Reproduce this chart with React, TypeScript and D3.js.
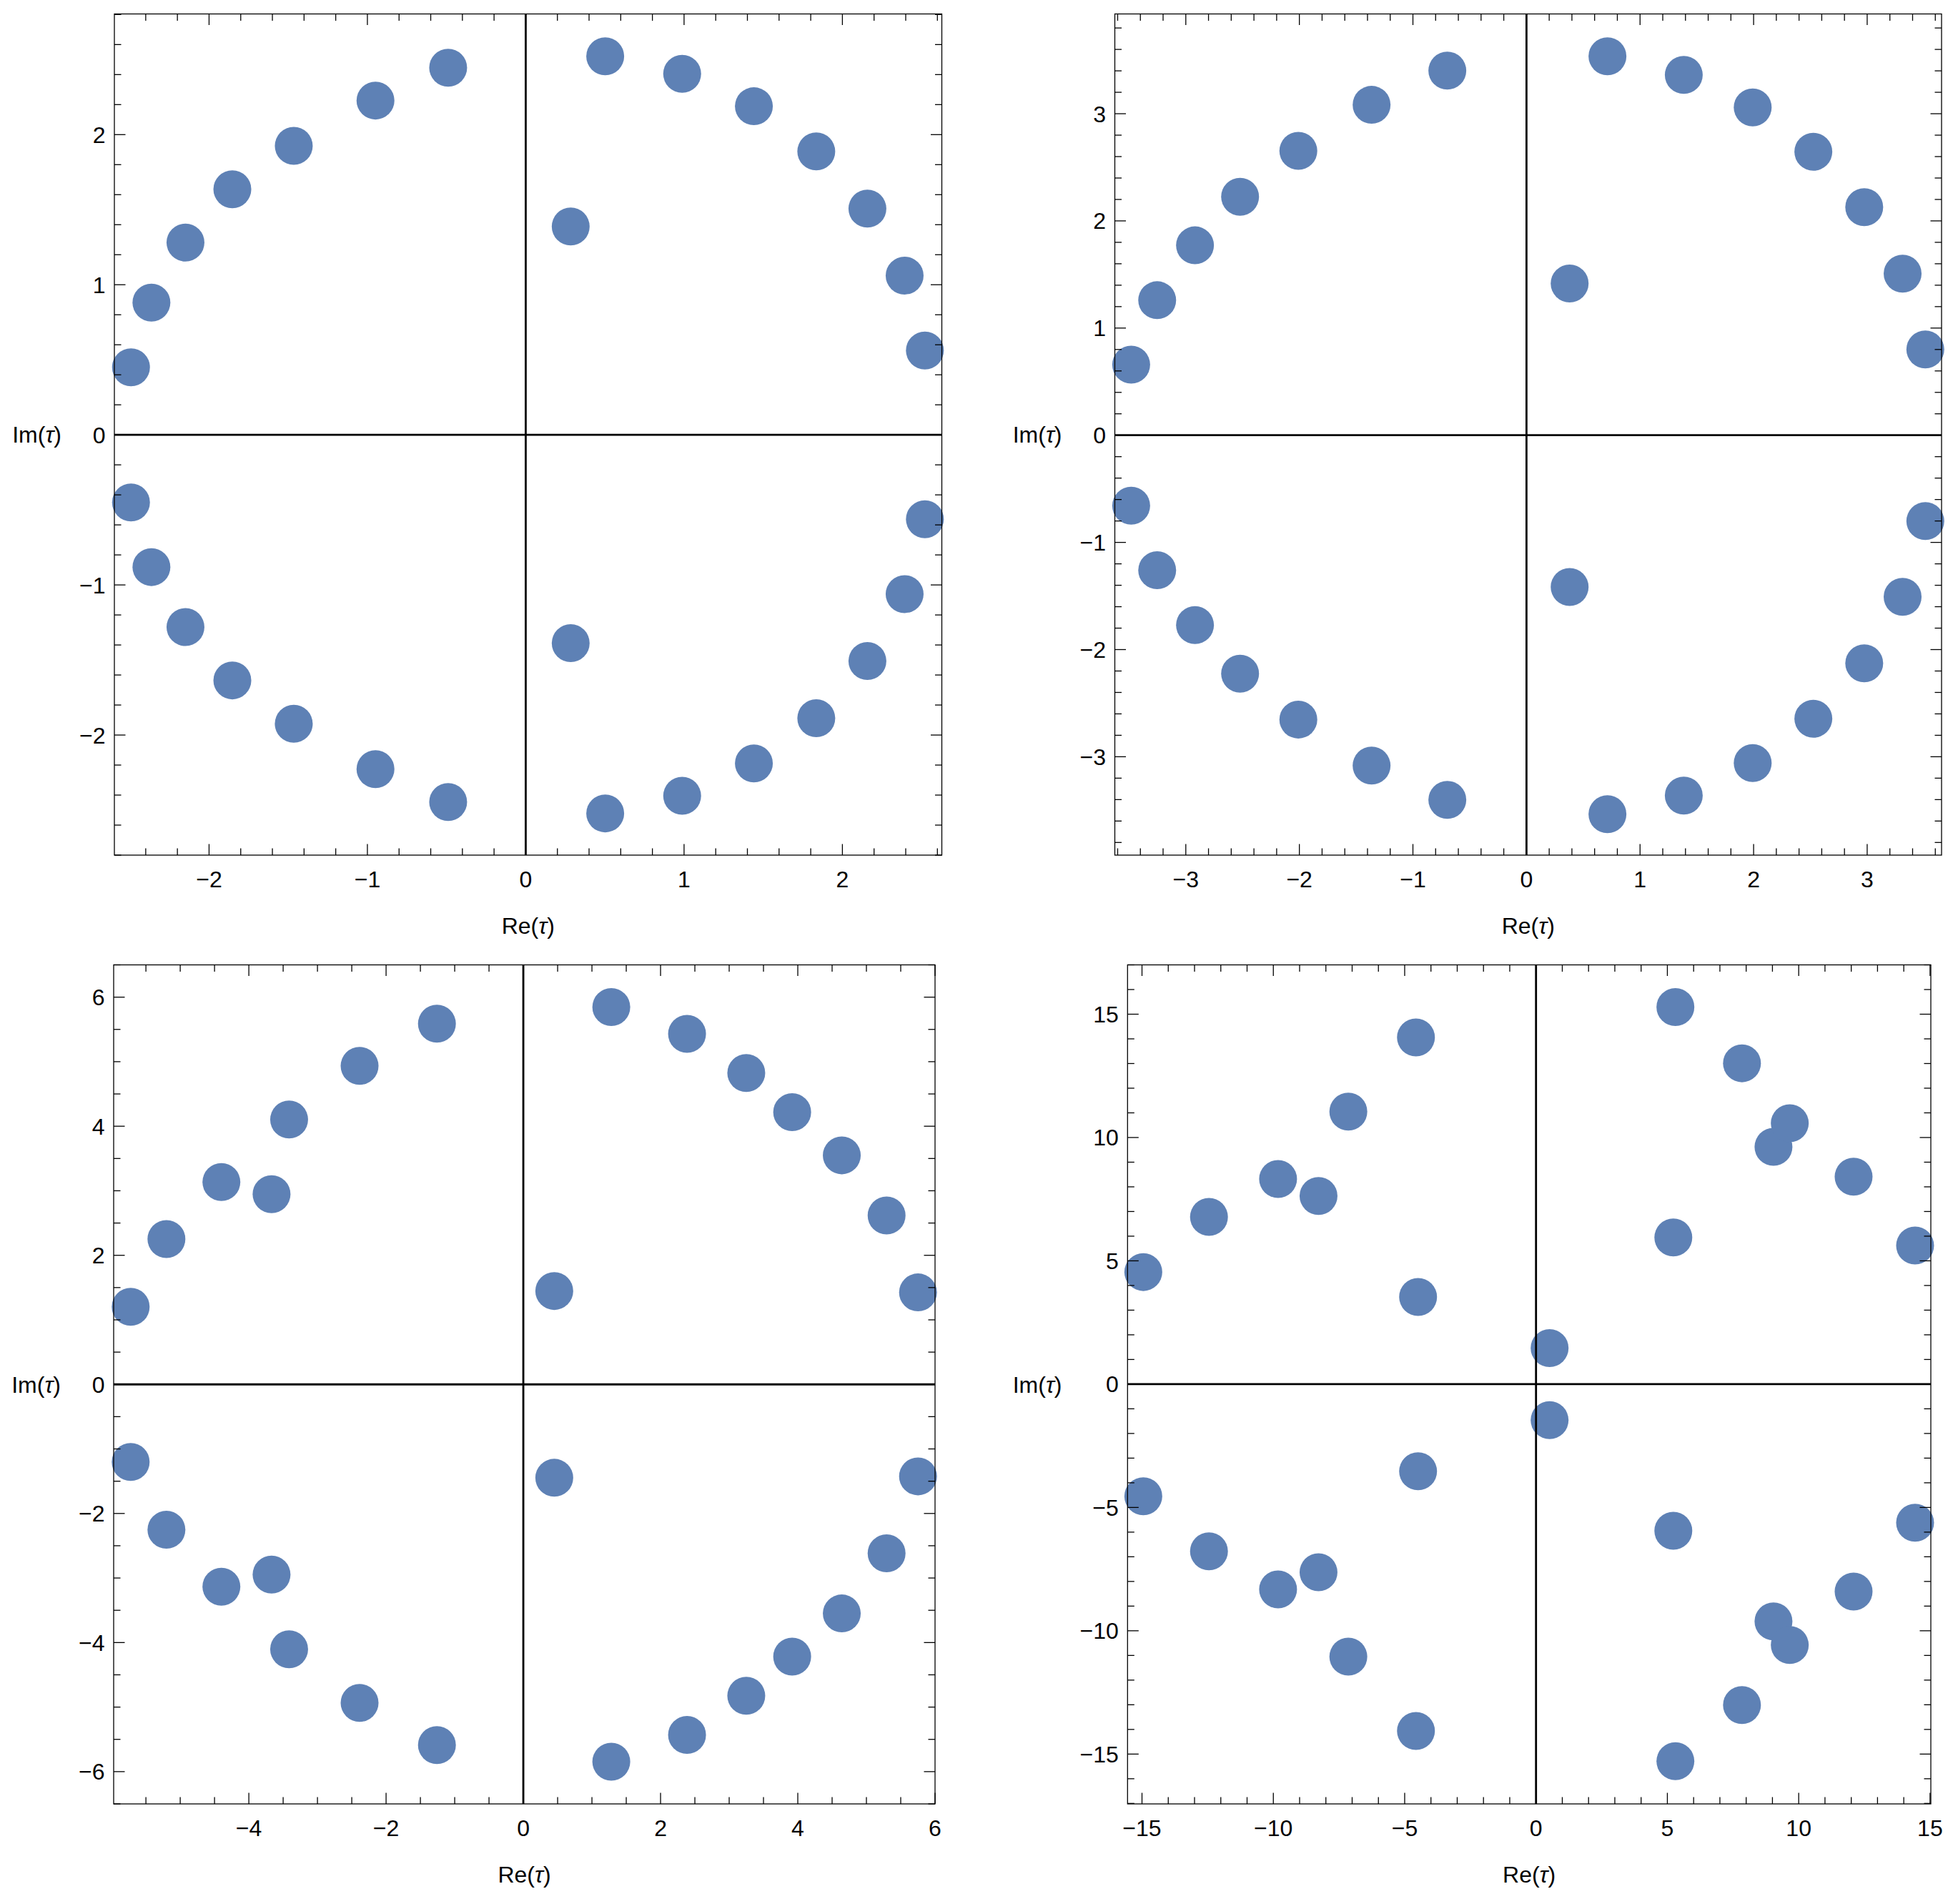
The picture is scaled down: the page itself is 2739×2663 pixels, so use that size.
import { useEffect, useRef } from 'react'
import * as d3 from 'd3'

type Pt = [number, number]

// zeros in the tau plane (upper half, then lower half)
const zerosA: Pt[] = [
  [-2.493, 0.45], [-2.364, 0.881], [-2.149, 1.281], [-1.853, 1.636], [-1.465, 1.925],
  [-0.949, 2.227], [-0.49, 2.446], [0.502, 2.522], [0.988, 2.405], [1.441, 2.189],
  [1.835, 1.888], [2.158, 1.507], [2.393, 1.061], [2.521, 0.562], [0.284, 1.388],
  [-2.493, -0.45], [-2.364, -0.881], [-2.149, -1.281], [-1.853, -1.636], [-1.465, -1.925],
  [-0.949, -2.227], [-0.49, -2.446], [0.502, -2.522], [0.988, -2.405], [1.441, -2.189],
  [1.835, -1.888], [2.158, -1.507], [2.393, -1.061], [2.521, -0.562], [0.284, -1.388],
]

const zerosB: Pt[] = [
  [-3.481, 0.658], [-3.252, 1.26], [-2.919, 1.772], [-2.522, 2.225], [-2.009, 2.653],
  [-1.364, 3.083], [-0.697, 3.402], [0.713, 3.536], [1.385, 3.362], [1.992, 3.059],
  [2.526, 2.645], [2.974, 2.128], [3.312, 1.508], [3.512, 0.801], [0.38, 1.416],
  [-3.481, -0.658], [-3.252, -1.26], [-2.919, -1.772], [-2.522, -2.225], [-2.009, -2.653],
  [-1.364, -3.083], [-0.697, -3.402], [0.713, -3.536], [1.385, -3.362], [1.992, -3.059],
  [2.526, -2.645], [2.974, -2.128], [3.312, -1.508], [3.512, -0.801], [0.38, -1.416],
]

const zerosC: Pt[] = [
  [-5.722, 1.202], [-5.201, 2.252], [-4.4, 3.134], [-3.669, 2.947], [-3.413, 4.104],
  [-2.386, 4.935], [-1.259, 5.588], [1.282, 5.846], [2.386, 5.431], [3.249, 4.825],
  [3.918, 4.218], [4.641, 3.549], [5.294, 2.617], [5.752, 1.425], [0.451, 1.447],
  [-5.722, -1.202], [-5.201, -2.252], [-4.4, -3.134], [-3.669, -2.947], [-3.413, -4.104],
  [-2.386, -4.935], [-1.259, -5.588], [1.282, -5.846], [2.386, -5.431], [3.249, -4.825],
  [3.918, -4.218], [4.641, -3.549], [5.294, -2.617], [5.752, -1.425], [0.451, -1.447],
]

const zerosD: Pt[] = [
  [-14.95, 4.545], [-12.45, 6.778], [-9.82, 8.32], [-8.28, 7.63], [-7.145, 11.05],
  [-4.571, 14.06], [-4.49, 3.535], [0.517, 1.462], [5.227, 5.946], [5.306, 15.29],
  [7.84, 13.01], [9.04, 9.62], [9.66, 10.58], [12.09, 8.41], [14.43, 5.62],
  [-14.95, -4.545], [-12.45, -6.778], [-9.82, -8.32], [-8.28, -7.63], [-7.145, -11.05],
  [-4.571, -14.06], [-4.49, -3.535], [0.517, -1.462], [5.227, -5.946], [5.306, -15.29],
  [7.84, -13.01], [9.04, -9.62], [9.66, -10.58], [12.09, -8.41], [14.43, -5.62],
]

const ticksA = [-2, -1, 0, 1, 2]
const ticksB = [-3, -2, -1, 0, 1, 2, 3]
const ticksC = [-6, -4, -2, 0, 2, 4, 6]
const ticksD = [-15, -10, -5, 0, 5, 10, 15]

interface Panel {
  points: Pt[]
  xDomain: [number, number]
  yDomain: [number, number]
  ticks: number[]
  minor: number
  box: { x0: number; x1: number; y0: number; y1: number }
}

const panels: Panel[] = [
  { points: zerosA, xDomain: [-2.598, 2.628], yDomain: [-2.8, 2.804], ticks: ticksA, minor: 0.2,
    box: { x0: 160, x1: 1317.5, y0: 19.5, y1: 1196 } },
  { points: zerosB, xDomain: [-3.625, 3.655], yDomain: [-3.918, 3.931], ticks: ticksB, minor: 0.2,
    box: { x0: 1559.5, x1: 2716, y0: 19.5, y1: 1196 } },
  { points: zerosC, xDomain: [-5.97, 6.0], yDomain: [-6.5, 6.5], ticks: ticksC, minor: 0.5,
    box: { x0: 159, x1: 1308, y0: 1349.5, y1: 2523 } },
  { points: zerosD, xDomain: [-15.55, 15.03], yDomain: [-17.02, 17.0], ticks: ticksD, minor: 1,
    box: { x0: 1577.3, x1: 2701, y0: 1349.5, y1: 2523 } },
]

const W = 2739
const H = 2663
const FONT = '"Liberation Sans", Arial, sans-serif'
const DOT = '#5E81B5'

const fmt = (v: number) => (v < 0 ? '\u2212' + Math.abs(v) : String(v))

export default function App() {
  const svgRef = useRef<SVGSVGElement>(null)

  useEffect(() => {
    if (!svgRef.current) return
    const svg = d3.select(svgRef.current)
    svg.selectAll('*').remove()

    svg.append('rect').attr('width', W).attr('height', H).attr('fill', '#fff')

    panels.forEach(p => {
      const { box } = p
      const x = d3.scaleLinear().domain(p.xDomain).range([box.x0, box.x1])
      const y = d3.scaleLinear().domain(p.yDomain).range([box.y1, box.y0])
      const g = svg.append('g')

      // points
      g.selectAll('circle')
        .data(p.points)
        .enter().append('circle')
        .attr('cx', d => x(d[0]))
        .attr('cy', d => y(d[1]))
        .attr('r', 26.5)
        .attr('fill', DOT)

      // axes through the origin
      g.append('line')
        .attr('x1', box.x0).attr('x2', box.x1)
        .attr('y1', y(0)).attr('y2', y(0))
        .attr('stroke', '#000').attr('stroke-width', 2.8)
      g.append('line')
        .attr('x1', x(0)).attr('x2', x(0))
        .attr('y1', box.y0).attr('y2', box.y1)
        .attr('stroke', '#000').attr('stroke-width', 2.8)

      // frame
      g.append('rect')
        .attr('x', box.x0).attr('y', box.y0)
        .attr('width', box.x1 - box.x0).attr('height', box.y1 - box.y0)
        .attr('fill', 'none').attr('stroke', '#000').attr('stroke-width', 1.3)

      // ticks, inward on all four sides
      const isMajor = (v: number) => p.ticks.some(t => Math.abs(t - v) < 1e-6)
      const minorVals = (dom: [number, number]) =>
        d3.range(Math.ceil(dom[0] / p.minor - 1e-9), Math.floor(dom[1] / p.minor + 1e-9) + 1)
          .map(i => +(i * p.minor).toFixed(6))
      const tickG = g.append('g').attr('stroke', '#000').attr('stroke-width', 1.3)
      minorVals(p.xDomain).forEach(v => {
        const len = isMajor(v) ? 15.5 : 9.5
        const px = x(v)
        tickG.append('line').attr('x1', px).attr('x2', px).attr('y1', box.y1).attr('y2', box.y1 - len)
        tickG.append('line').attr('x1', px).attr('x2', px).attr('y1', box.y0).attr('y2', box.y0 + len)
      })
      minorVals(p.yDomain).forEach(v => {
        const len = isMajor(v) ? 15.5 : 9.5
        const py = y(v)
        tickG.append('line').attr('x1', box.x0).attr('x2', box.x0 + len).attr('y1', py).attr('y2', py)
        tickG.append('line').attr('x1', box.x1).attr('x2', box.x1 - len).attr('y1', py).attr('y2', py)
      })

      // tick labels
      const xt = p.ticks.filter(t => t >= p.xDomain[0] - 1e-6 && t <= p.xDomain[1] + 1e-6)
      const yt = p.ticks.filter(t => t >= p.yDomain[0] - 1e-6 && t <= p.yDomain[1] + 1e-6)
      g.append('g').selectAll('text')
        .data(xt)
        .enter().append('text')
        .attr('x', d => x(d))
        .attr('y', box.y1 + 44.5)
        .attr('text-anchor', 'middle')
        .attr('font-family', FONT).attr('font-size', 32).attr('fill', '#000')
        .text(d => fmt(d))
      const yLabels = g.append('g')
      yLabels.selectAll('text')
        .data(yt)
        .enter().append('text')
        .attr('x', box.x0 - 12.5)
        .attr('y', d => y(d))
        .attr('dy', '0.36em')
        .attr('text-anchor', 'end')
        .attr('font-family', FONT).attr('font-size', 32).attr('fill', '#000')
        .text(d => fmt(d))

      let maxW = 0
      yLabels.selectAll<SVGTextElement, number>('text').each(function () {
        maxW = Math.max(maxW, this.getComputedTextLength())
      })

      // axis labels
      const re = g.append('text')
        .attr('x', (box.x0 + box.x1) / 2)
        .attr('y', box.y1 + 110)
        .attr('text-anchor', 'middle')
        .attr('font-family', FONT).attr('font-size', 32).attr('fill', '#000')
      re.append('tspan').text('Re(')
      re.append('tspan').attr('font-style', 'italic').text('\u03c4')
      re.append('tspan').text(')')

      const im = g.append('text')
        .attr('x', box.x0 - 12.5 - maxW - 25)
        .attr('y', (box.y0 + box.y1) / 2)
        .attr('dy', '0.36em')
        .attr('text-anchor', 'end')
        .attr('font-family', FONT).attr('font-size', 32).attr('fill', '#000')
      im.append('tspan').text('Im(')
      im.append('tspan').attr('font-style', 'italic').text('\u03c4')
      im.append('tspan').text(')')
    })
  }, [])

  return (
    <svg
      ref={svgRef}
      width={W}
      height={H}
      style={{ position: 'absolute', left: 0, top: 0, display: 'block' }}
    />
  )
}
